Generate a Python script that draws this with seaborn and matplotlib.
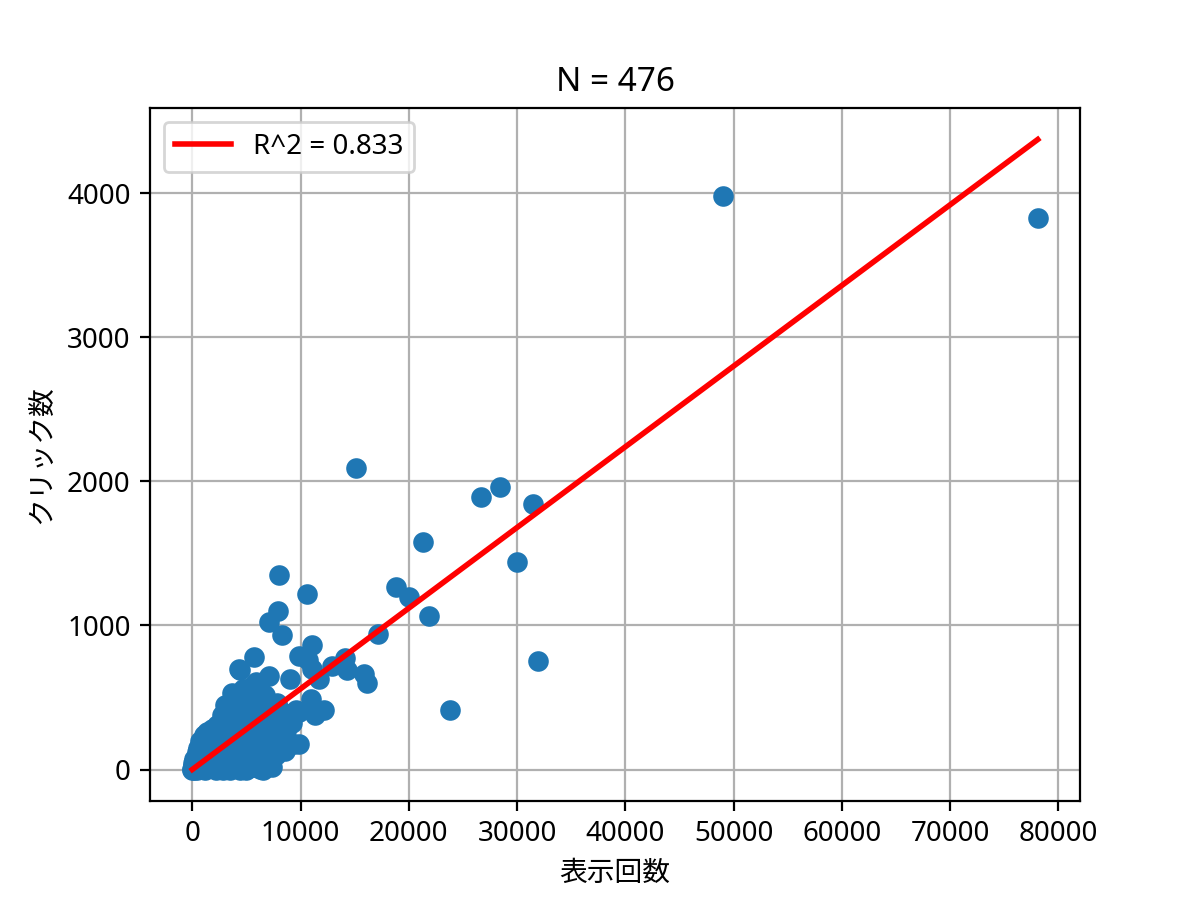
import matplotlib
matplotlib.use("Agg")
import matplotlib.pyplot as plt
import seaborn as sns
import numpy as np
import pandas as pd

plt.rcParams['font.family'] = ['Noto Sans', 'Noto Sans CJK JP', 'DejaVu Sans']

# impressions (表示回数) and clicks (クリック数)
impressions = [
    49000, 78100, 15100, 26700, 28400, 31500, 21300, 30000, 18800, 20000,
    21900, 31900, 23800, 17200, 8000, 10600, 7900, 7130, 8300, 11100,
    5700, 4400, 9900, 10700, 12900, 14100, 14300, 15900, 16100, 11700,
    11100, 9000, 7100, 5900, 3700, 4800, 6200, 5400, 4300, 11000,
    12200, 11300, 9900, 8300, 7100, 9600,
    # dense cluster near the origin
    0, 20, 50, 80, 100, 150, 200, 250, 300, 60, 120, 30,
    400, 450, 500, 550, 600, 650, 700, 750, 800, 420, 680,
    900, 950, 1000, 1050, 1100, 1200, 1250, 1300, 1350, 1400, 1450, 1500,
    1600, 1650, 1700, 1800, 1850, 1900, 2000, 2050, 2100, 2200, 2250, 2300, 2400, 2400,
    2500, 2600, 2650, 2700, 2800, 2900, 3000, 3000, 3100, 3200, 3250, 3300, 2800,
    3400, 3500, 3600, 3700, 3800, 3900, 4000, 4050, 4200, 4300, 4400, 4500, 4500, 3500, 4100,
    4700, 4800, 4900, 5000, 5100, 5200, 5300, 5400, 5500, 5600, 5700, 5800, 5800, 5000, 4700,
    5900, 6000, 6100, 6200, 6300, 6400, 6500, 6600, 6700, 6800, 6900, 7000, 6500,
    7200, 7300, 7500, 7600, 7700, 7800, 8000, 8200, 8300, 8500, 8700, 8900, 9200,
    9400, 9900, 8600, 7400,
]
clicks = [
    3980, 3830, 2090, 1890, 1960, 1840, 1580, 1440, 1265, 1200,
    1065, 755, 410, 940, 1350, 1218, 1100, 1025, 935, 865,
    780, 690, 785, 757, 720, 775, 690, 665, 600, 630,
    700, 625, 650, 606, 530, 495, 583, 576, 701, 490,
    410, 380, 180, 180, 60, 410,
    0, 2, 10, 5, 20, 0, 35, 12, 60, 45, 70, 25,
    0, 30, 90, 150, 15, 60, 200, 110, 40, 120, 8,
    170, 20, 80, 240, 130, 0, 50, 190, 100, 260, 30, 150,
    210, 60, 10, 120, 280, 180, 40, 240, 90, 0, 150, 310, 60, 200,
    120, 260, 20, 380, 170, 70, 300, 450, 220, 10, 130, 360, 0,
    80, 270, 420, 180, 30, 340, 490, 110, 230, 400, 0, 150, 310, 0, 60,
    60, 240, 420, 130, 330, 10, 500, 200, 80, 400, 280, 20, 160, 0, 560,
    340, 480, 90, 230, 5, 400, 150, 300, 520, 60, 210, 440, 0,
    300, 160, 380, 230, 100, 460, 300, 200, 400, 390, 270, 330, 320,
    180, 396, 130, 20,
]

# linear fit shown in the chart
fit_slope = 0.0560
fit_intercept = 0.0
r_squared = 0.833
n_label = 476

df = pd.DataFrame({"x": impressions, "y": clicks})

fig, ax = plt.subplots(figsize=(6, 4.5), dpi=200)
ax.set_axisbelow(True)
ax.grid(True)

sns.scatterplot(data=df, x="x", y="y", ax=ax, color="#1f77b4", s=55,
                linewidth=0, legend=False)

xs = np.array([df["x"].min(), df["x"].max()])
ax.plot(xs, fit_slope * xs + fit_intercept, color="red", linewidth=2,
        label=f"R^2 = {r_squared:.3f}")

ax.set_title(f"N = {n_label}")
ax.set_xlabel("表示回数")
ax.set_ylabel("クリック数")
ax.legend(loc="upper left")

fig.savefig("out.png", dpi=200)
